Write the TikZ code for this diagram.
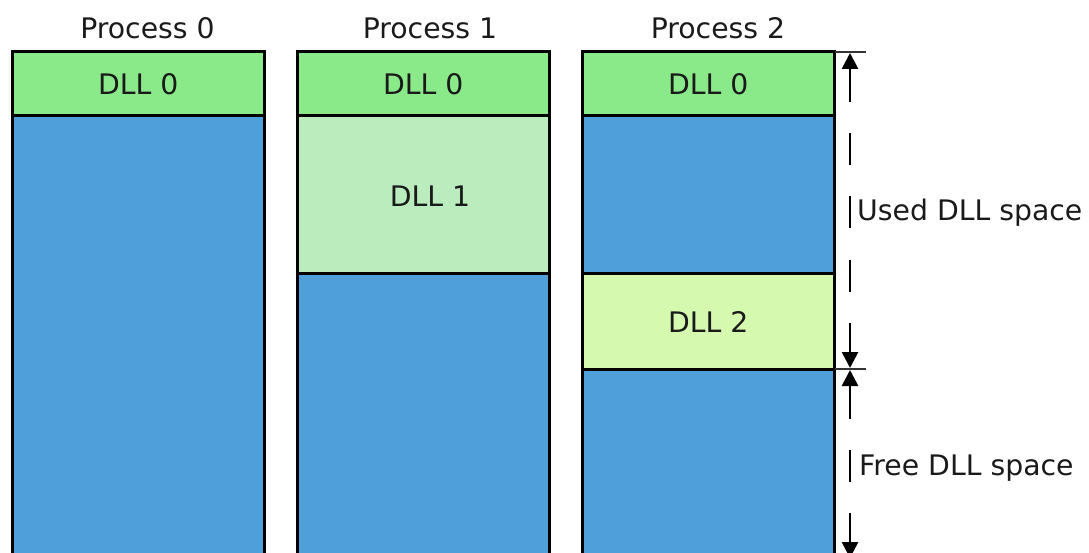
\documentclass[tikz,border=0pt]{standalone}
\usepackage{fontspec}
\setmainfont{DejaVu Sans}
\usetikzlibrary{arrows.meta}
\definecolor{dllgreen}{RGB}{138,234,138}
\definecolor{dllone}{RGB}{186,236,190}
\definecolor{dlltwo}{RGB}{214,249,176}
\definecolor{memblue}{RGB}{79,159,218}
\definecolor{inkcol}{RGB}{26,26,26}
\newcommand{\labelfont}{\fontsize{28.3}{33}\selectfont}
\tikzset{
  region/.style={draw=black, line width=3pt, inner sep=0pt, outer sep=0pt,
    anchor=north west, minimum width=252.5pt, text=inkcol, font=\labelfont},
  title/.style={text=inkcol, inner sep=0pt, font=\labelfont},
  dimlabel/.style={text=inkcol, inner sep=0pt, anchor=west, font=\labelfont},
  dimline/.style={draw=black, line width=2.7pt},
  dimdash/.style={dimline, dash pattern=on 32pt off 31.5pt, dash phase=31.5pt},
  dimarrow/.style={dimline, -{Triangle[length=16pt, width=16pt]}},
  tick/.style={draw=black!80, line width=2pt},
}
\begin{document}
\begin{tikzpicture}[x=1pt, y=-1pt]
\useasboundingbox (0,0) rectangle (1089,553);
\clip (0,0) rectangle (1089,553);

% column titles
\node[title] (t0) at (147.5,28) {Process 0};
\node[title] (t1) at (430,28) {Process 1};
\node[title] (t2) at (718,28) {Process 2};

% Process 0
\node[region, fill=memblue, minimum height=460pt] (p0free) at (12,116) {};
\node[region, fill=dllgreen, minimum height=64pt] (p0dll0) at (12,52) {DLL 0};

% Process 1
\node[region, fill=memblue, minimum height=300pt] (p1free) at (297,274) {};
\node[region, fill=dllone, minimum height=158pt] (p1dll1) at (297,116) {};
\node[title] (p1dll1text) at (430,196) {DLL 1};
\node[region, fill=dllgreen, minimum height=64pt] (p1dll0) at (297,52) {DLL 0};

% Process 2
\node[region, fill=memblue, minimum height=200pt] (p2free) at (582,369) {};
\node[region, fill=dlltwo, minimum height=95pt] (p2dll2) at (582,274) {DLL 2};
\node[region, fill=memblue, minimum height=158pt] (p2mid) at (582,116) {};
\node[region, fill=dllgreen, minimum height=64pt] (p2dll0) at (582,52) {DLL 0};

% dimension ticks
\coordinate (tickA) at (866,52);
\coordinate (tickB) at (866,369);
\draw[tick] (p2dll0.north east) -- (tickA);
\draw[tick] (p2dll2.south east) -- (tickB);

% used DLL space
\coordinate (usedTop) at (850,53);
\coordinate (usedBot) at (850,368);
\coordinate (usedA) at (850,101);
\coordinate (usedB) at (850,323);
\draw[dimarrow] (usedA) -- (usedTop);
\draw[dimdash] (usedA) -- (usedB);
\draw[dimarrow] (usedB) -- (usedBot);
\node[dimlabel] (usedlabel) at (857,213) {Used DLL space};

% free DLL space
\coordinate (freeTop) at (850,370);
\coordinate (freeBot) at (850,558);
\coordinate (freeA) at (850,418);
\coordinate (freeB) at (850,513);
\draw[dimarrow] (freeA) -- (freeTop);
\draw[dimdash] (freeA) -- (freeB);
\draw[dimarrow] (freeB) -- (freeBot);
\node[dimlabel] (freelabel) at (859,468) {Free DLL space};
\end{tikzpicture}
\end{document}
